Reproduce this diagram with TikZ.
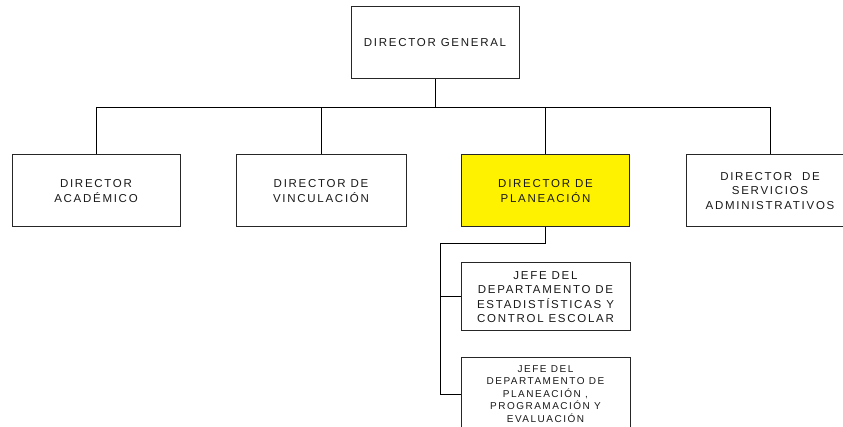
\documentclass[tikz,border=0pt]{standalone}
\usepackage{fontspec}
\setmainfont{Liberation Sans}
\newfontfamily\boxfont[LetterSpace=15]{Liberation Sans}
\begin{document}
\begin{tikzpicture}[x=1pt,y=-1pt]
        \tikzstyle{puesto}=[rectangle,draw=black!85,line width=1pt,fill=white,minimum width=168pt,minimum height=72pt,align=center,inner sep=2pt,text=black!90,font={\boxfont\fontsize{11.5}{14.3}\selectfont}]
        \tikzstyle{jefe}=[puesto,minimum width=169pt,minimum height=68pt]
        \tikzstyle{edge}=[draw, line width=1pt]
        \useasboundingbox (0,0) rectangle (843,427);
        \clip (0,0) rectangle (843,427);
       \begin{scope}
         \node [puesto] (dg) at (435,43) {DIRECTOR GENERAL};
         \node [puesto] (da) at (96,191) {DIRECTOR\\ACADÉMICO};
         \node [puesto,minimum width=170pt] (dv) at (321,191) {DIRECTOR DE\\VINCULACIÓN};
         \node [puesto,fill=yellow] (dp) at (545.5,191) {DIRECTOR DE\\PLANEACIÓN};
         \node [puesto] (ds) at (770,191) {DIRECTOR\ \ DE\\SERVICIOS\\ADMINISTRATIVOS};

         \node [jefe] (j1) at (545.5,297) {JEFE DEL\\DEPARTAMENTO DE\\ESTADISTÍSTICAS Y\\CONTROL ESCOLAR};
         \node [jefe,minimum height=72pt,font={\boxfont\fontsize{10}{12.5}\selectfont}] (j2) at (545.5,394) {JEFE DEL\\DEPARTAMENTO DE\\PLANEACIÓN ,\\PROGRAMACIÓN Y\\EVALUACIÓN};
         \coordinate (spine) at (440,244);

         \path[edge] (dg.south) -- ++(0,28) -| (da.north);
         \path[edge] (dg.south) -- ++(0,28) -| (dv.north);
         \path[edge] (dg.south) -- ++(0,28) -| (dp.north);
         \path[edge] (dg.south) -- ++(0,28) -| (ds.north);

         \path[edge] (dp.south) |- (spine) |- (j2.west);
         \path[edge] (spine) |- (j1.west);
        \end{scope}
      \end{tikzpicture}
\end{document}
